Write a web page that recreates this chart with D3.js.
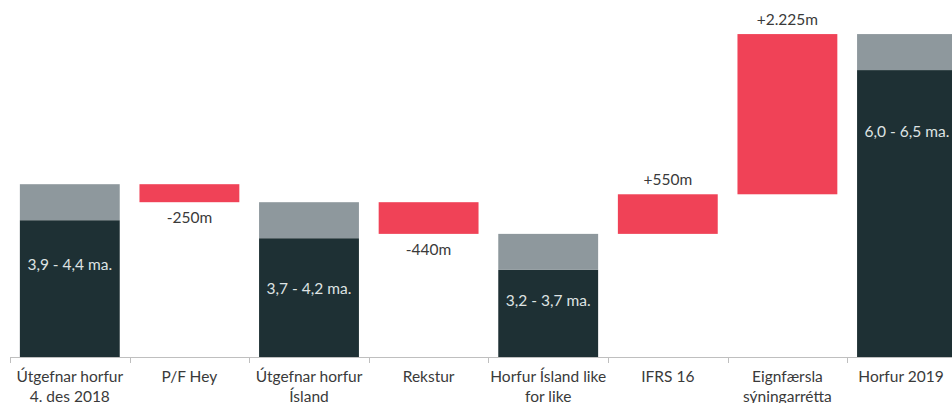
<!DOCTYPE html>
<html>
<head>
<meta charset="utf-8">
<script src="https://cdn.jsdelivr.net/npm/d3@7"></script>
<style>
  html, body { margin: 0; padding: 0; background: #fff; }
  #chart { width: 952px; height: 403px; overflow: hidden; }
  text { font-family: Lato, "Open Sans", sans-serif; }
</style>
</head>
<body>
<div id="chart"></div>
<script>
// Categories (each entry = lines of the axis label)
const categories = [
  ['Útgefnar horfur', '4. des 2018'],
  ['P/F Hey'],
  ['Útgefnar horfur', 'Ísland'],
  ['Rekstur'],
  ['Horfur Ísland like', 'for like'],
  ['IFRS 16'],
  ['Eignfærsla', 'sýningarrétta'],
  ['Horfur 2019']
];

// Upper bound of the starting outlook (bn ISK), then the changes; null = running total bar
const startUpper = 4.4;
const changes = [null, -0.25, null, -0.44, null, 0.55, 2.225, null];
const rangeSpread = 0.5; // width of the outlook range (grey cap)

const valueLabels = ['3,9 - 4,4 ma.', '-250m', '3,7 - 4,2 ma.', '-440m', '3,2 - 3,7 ma.', '+550m', '+2.225m', '6,0 - 6,5 ma.'];

// where the text sits inside the total bars (data units)
const innerLabelAt = [3.21, null, 2.875, null, 2.71, null, null, 5.05];

const yDomain = [2, 7];

const colors = { dark: '#1e3034', range: '#8e989d', change: '#f04257', axis: '#bfbfbf', text: '#3a3a3a', inner: '#dfe3e3' };

const width = 952, height = 403;

// build waterfall rows
let running = startUpper;
const rows = categories.map((c, i) => {
  const d = changes[i];
  if (d === null) {
    return { i, total: true, upper: running, lower: running - rangeSpread };
  }
  const from = running;
  running += d;
  return { i, total: false, from, to: running, delta: d };
});

const svg = d3.select('#chart').append('svg')
  .attr('width', width)
  .attr('height', height);

const x = d3.scaleBand()
  .domain(d3.range(categories.length))
  .range([10, 966.8])
  .paddingInner(0.165)
  .paddingOuter(0.0825);

const y = d3.scaleLinear().domain(yDomain).range([357, -3]);

const step = x.step();
const x0 = x.range()[0];

// total bars
const totals = rows.filter(r => r.total);
svg.selectAll('rect.base').data(totals).enter().append('rect')
  .attr('x', d => x(d.i))
  .attr('width', x.bandwidth())
  .attr('y', d => y(d.lower))
  .attr('height', d => y(yDomain[0]) - y(d.lower))
  .attr('fill', colors.dark);

svg.selectAll('rect.range').data(totals).enter().append('rect')
  .attr('x', d => x(d.i))
  .attr('width', x.bandwidth())
  .attr('y', d => y(d.upper))
  .attr('height', d => y(d.lower) - y(d.upper))
  .attr('fill', colors.range);

svg.selectAll('text.inner').data(totals).enter().append('text')
  .attr('x', d => x(d.i) + x.bandwidth() / 2)
  .attr('y', d => y(innerLabelAt[d.i]))
  .attr('text-anchor', 'middle')
  .attr('font-size', 15.5)
  .attr('fill', colors.inner)
  .text(d => valueLabels[d.i]);

// change bars
const deltas = rows.filter(r => !r.total);
svg.selectAll('rect.change').data(deltas).enter().append('rect')
  .attr('x', d => x(d.i))
  .attr('width', x.bandwidth())
  .attr('y', d => y(Math.max(d.from, d.to)))
  .attr('height', d => Math.abs(y(d.from) - y(d.to)))
  .attr('fill', colors.change);

svg.selectAll('text.change').data(deltas).enter().append('text')
  .attr('x', d => x(d.i) + x.bandwidth() / 2)
  .attr('y', d => d.delta < 0 ? y(d.to) + 21 : y(d.to) - 9)
  .attr('text-anchor', 'middle')
  .attr('font-size', 15.5)
  .attr('fill', colors.text)
  .text(d => valueLabels[d.i]);

// axis
const axis = svg.append('g');
axis.append('line')
  .attr('x1', x0).attr('x2', width)
  .attr('y1', y(yDomain[0]) + 0.5).attr('y2', y(yDomain[0]) + 0.5)
  .attr('stroke', colors.axis);

axis.selectAll('line.tick').data(d3.range(categories.length + 1)).enter().append('line')
  .attr('x1', i => Math.round(x0 + i * step) + 0.5)
  .attr('x2', i => Math.round(x0 + i * step) + 0.5)
  .attr('y1', y(yDomain[0]))
  .attr('y2', y(yDomain[0]) + 6)
  .attr('stroke', colors.axis);

const labels = axis.selectAll('text.cat').data(categories).enter().append('text')
  .attr('text-anchor', 'middle')
  .attr('font-size', 15.5)
  .attr('fill', colors.text)
  .attr('transform', (d, i) => `translate(${Math.min(x(i) + x.bandwidth() / 2, 901)},${y(yDomain[0]) + 25})`);

labels.selectAll('tspan').data(d => d).enter().append('tspan')
  .attr('x', 0)
  .attr('y', (d, j) => j * 19.5)
  .text(d => d);
</script>
</body>
</html>
